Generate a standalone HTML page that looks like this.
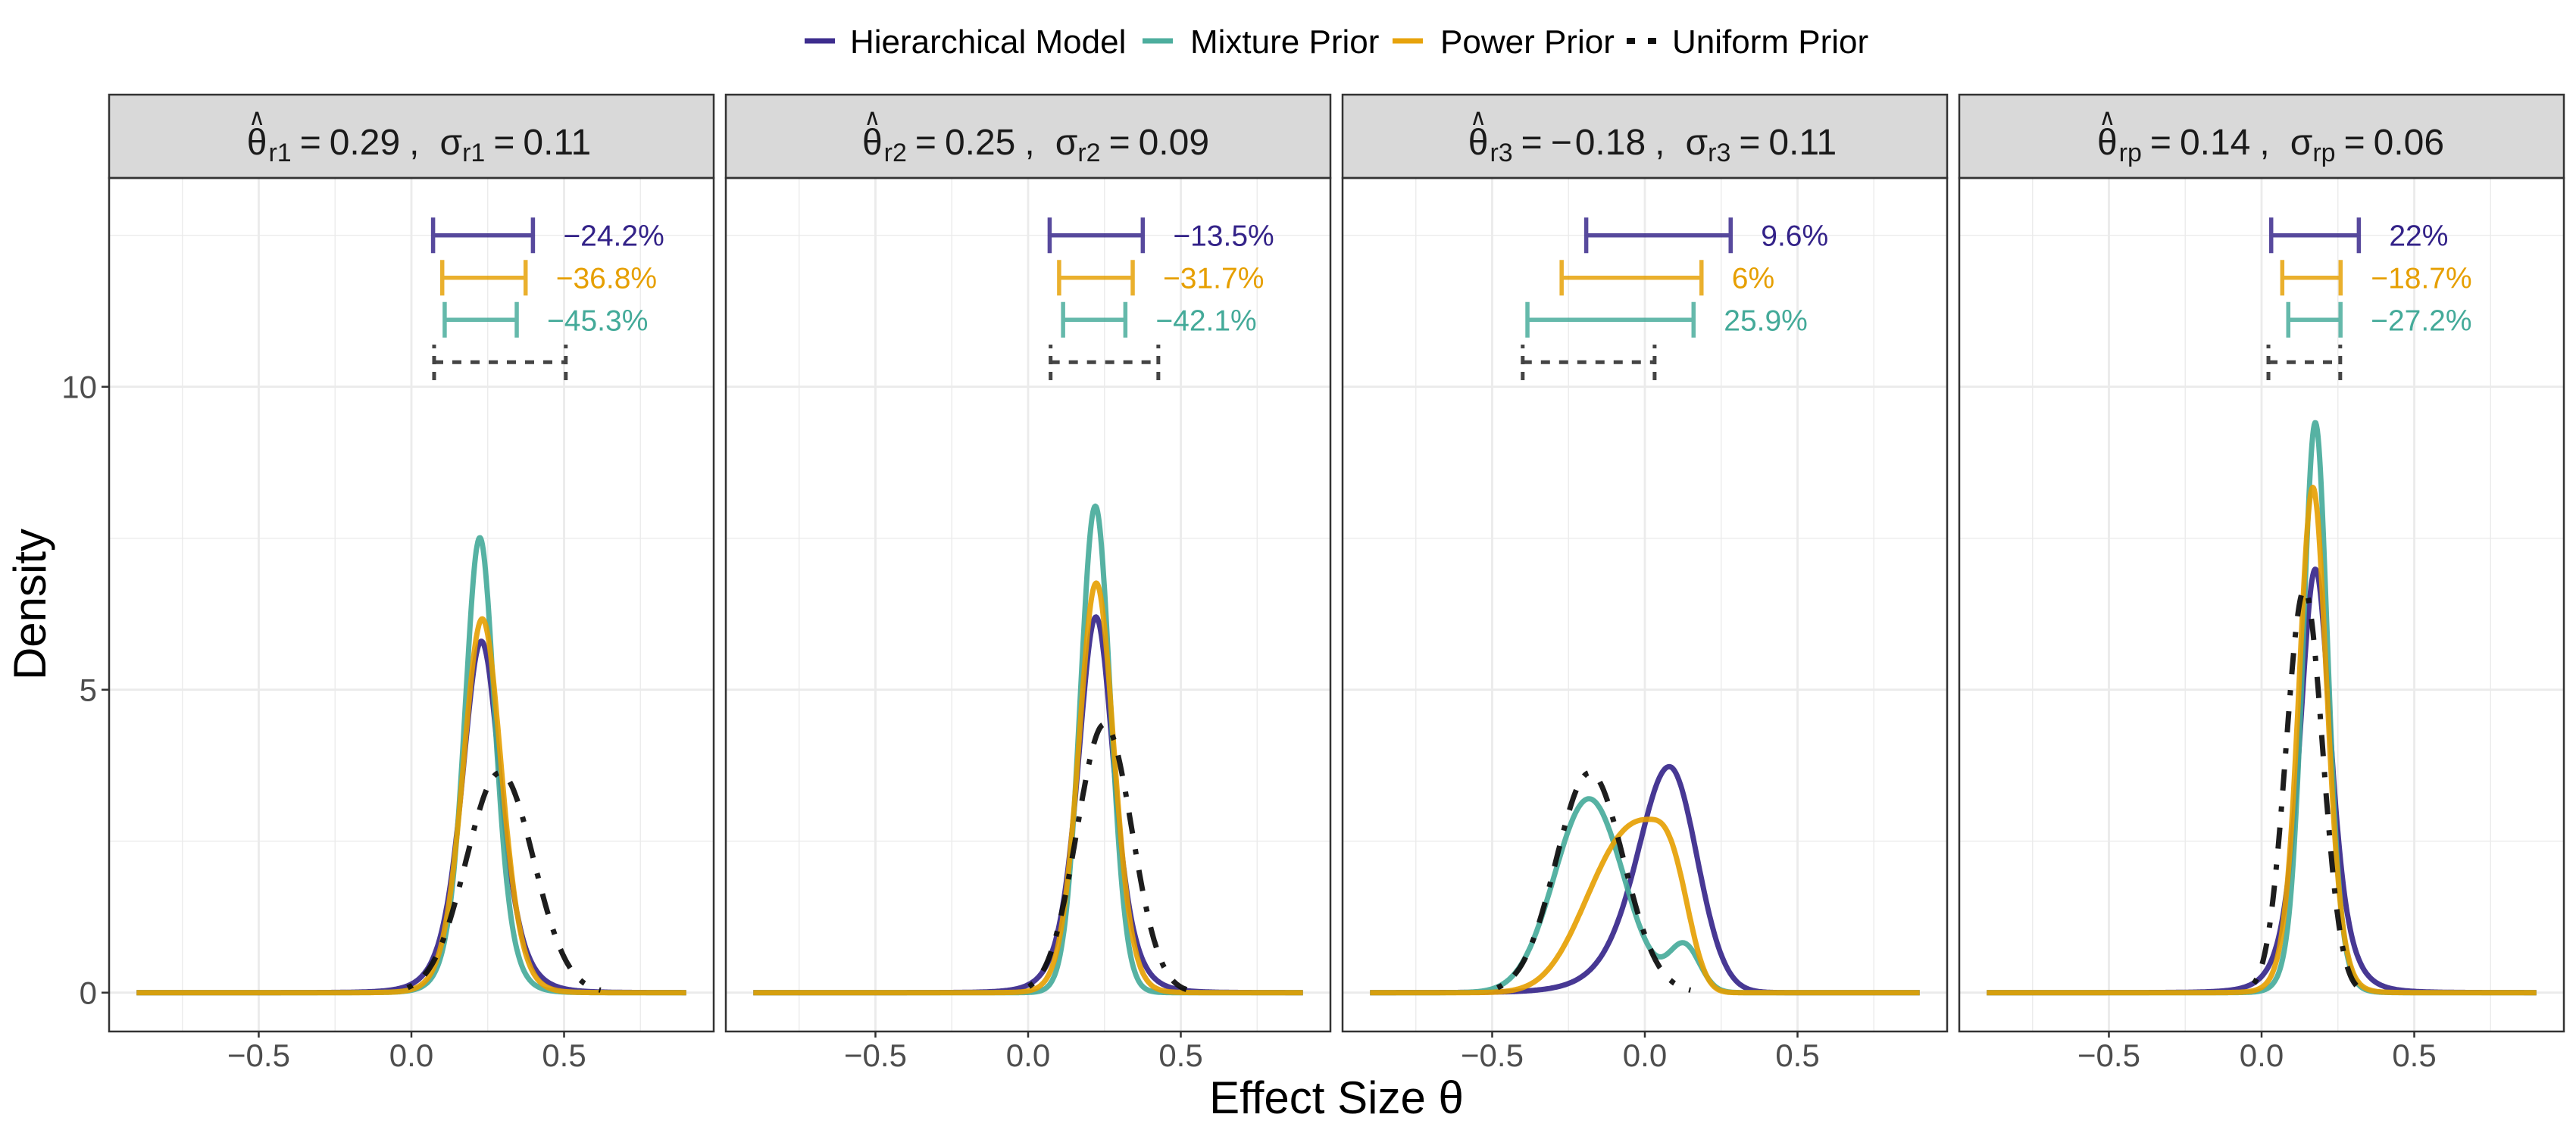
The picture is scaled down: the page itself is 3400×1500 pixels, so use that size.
<!DOCTYPE html>
<html>
<head>
<meta charset="utf-8">
<style>
  html, body { margin: 0; padding: 0; background: #ffffff; }
  svg { display: block; }
  text { font-family: "Liberation Sans", Arial, sans-serif; }
</style>
</head>
<body>
<svg id="chart" xmlns="http://www.w3.org/2000/svg" width="3400" height="1500" viewBox="0 0 3400 1500">
  <rect x="0" y="0" width="3400" height="1500" fill="#ffffff"/>

  <!-- Legend -->
  <g>
    <line x1="1062" y1="54" x2="1102" y2="54" stroke="#332288" stroke-width="7" opacity="0.95"/>
    <text x="1122" y="70" font-size="44" fill="#000">Hierarchical Model</text>
    <line x1="1508" y1="54" x2="1548" y2="54" stroke="#44AA99" stroke-width="7" opacity="0.95"/>
    <text x="1571" y="70" font-size="44" fill="#000">Mixture Prior</text>
    <line x1="1838" y1="54" x2="1878" y2="54" stroke="#E69F00" stroke-width="7" opacity="0.95"/>
    <text x="1901" y="70" font-size="44" fill="#000">Power Prior</text>
    <rect x="2147" y="50" width="11" height="8" fill="#111"/>
    <rect x="2175" y="50" width="11" height="8" fill="#111"/>
    <text x="2207" y="70" font-size="44" fill="#000">Uniform Prior</text>
  </g>

  <g id="grids"></g>
  <g id="curves"></g>
  <g id="bars"></g>
  <g id="frames"></g>

  <!-- Strip texts -->
  <g fill="#1a1a1a">
    <text id="s0" x="553" y="204" text-anchor="middle" font-size="48">θ<tspan font-size="34" dx="2" dy="9">r1</tspan><tspan dx="11" dy="-9">=</tspan><tspan dx="11">0.29</tspan><tspan dx="12">,</tspan><tspan dx="27">σ</tspan><tspan font-size="34" dy="9">r1</tspan><tspan dx="11" dy="-9">=</tspan><tspan dx="11">0.11</tspan></text>
    <text id="s1" x="1367" y="204" text-anchor="middle" font-size="48">θ<tspan font-size="34" dx="2" dy="9">r2</tspan><tspan dx="11" dy="-9">=</tspan><tspan dx="11">0.25</tspan><tspan dx="12">,</tspan><tspan dx="27">σ</tspan><tspan font-size="34" dy="9">r2</tspan><tspan dx="11" dy="-9">=</tspan><tspan dx="11">0.09</tspan></text>
    <text id="s2" x="2181" y="204" text-anchor="middle" font-size="48">θ<tspan font-size="34" dx="2" dy="9">r3</tspan><tspan dx="11" dy="-9">=</tspan><tspan dx="11">−</tspan><tspan dx="4">0.18</tspan><tspan dx="12">,</tspan><tspan dx="27">σ</tspan><tspan font-size="34" dy="9">r3</tspan><tspan dx="11" dy="-9">=</tspan><tspan dx="11">0.11</tspan></text>
    <text id="s3" x="2997" y="204" text-anchor="middle" font-size="48">θ<tspan font-size="34" dx="2" dy="9">rp</tspan><tspan dx="11" dy="-9">=</tspan><tspan dx="11">0.14</tspan><tspan dx="12">,</tspan><tspan dx="27">σ</tspan><tspan font-size="34" dy="9">rp</tspan><tspan dx="11" dy="-9">=</tspan><tspan dx="11">0.06</tspan></text>
    <text id="h0" x="334" y="165" text-anchor="middle" font-size="30" style="font-family:'DejaVu Sans',sans-serif">∧</text>
    <text id="h1" x="1148" y="165" text-anchor="middle" font-size="30" style="font-family:'DejaVu Sans',sans-serif">∧</text>
    <text id="h2" x="1946" y="165" text-anchor="middle" font-size="30" style="font-family:'DejaVu Sans',sans-serif">∧</text>
    <text id="h3" x="2777" y="165" text-anchor="middle" font-size="30" style="font-family:'DejaVu Sans',sans-serif">∧</text>
  </g>

  <!-- Y axis -->
  <g fill="#4D4D4D" font-size="42" text-anchor="end">
    <text x="128" y="1325.7">0</text>
    <text x="128" y="925.7">5</text>
    <text x="128" y="525.7">10</text>
  </g>
  <g stroke="#333333" stroke-width="2.5">
    <line x1="134" y1="1310.7" x2="144" y2="1310.7"/>
    <line x1="134" y1="910.7" x2="144" y2="910.7"/>
    <line x1="134" y1="510.7" x2="144" y2="510.7"/>
  </g>
  <text transform="translate(60,798) rotate(-90)" text-anchor="middle" font-size="60" fill="#000">Density</text>

  <g id="xticks"></g>
  <text x="1764" y="1470" text-anchor="middle" font-size="60" fill="#000">Effect Size θ</text>
</svg>

<script>
(function(){
  var NS = 'http://www.w3.org/2000/svg';
  var L = [144, 958, 1772, 2586], W = 798;
  var PX = 403.03;
  function X(i, v){ return L[i] + 399 + v * PX; }
  function Y(d){ return 1310.7 - d * 80; }
  function el(tag, attrs, parent, txt){
    var e = document.createElementNS(NS, tag);
    for (var k in attrs) e.setAttribute(k, attrs[k]);
    if (txt !== undefined) e.textContent = txt;
    parent.appendChild(e);
    return e;
  }
  var grids = document.getElementById('grids');
  var curves = document.getElementById('curves');
  var bars = document.getElementById('bars');
  var frames = document.getElementById('frames');
  var xticks = document.getElementById('xticks');

  function side(z, c){
    var u = z / c.s;
    if (c.t === 'g') return Math.exp(-0.5 * u * u);
    if (c.t === 't') return Math.pow(1 + u * u / c.n, -(c.n + 1) / 2);
    return Math.exp(-Math.pow(Math.abs(u), c.n));
  }
  function comp(x, k){ var z = x - k.m; return k.A * side(z, z < 0 ? k.L : k.R); }
  function dens(x, cs){ var s = 0; for (var j = 0; j < cs.length; j++) s += comp(x, cs[j]); return s; }
  function g(A, m, s){ return {A:A, m:m, L:{t:'g', s:s}, R:{t:'g', s:s}}; }
  function t(A, m, s, n){ return {A:A, m:m, L:{t:'t', s:s, n:n}, R:{t:'t', s:s, n:n}}; }

  var P = [
    { th:0.29, sg:0.11,
      H:[t(5.80,0.229,0.0654,5)], M:[t(7.51,0.224,0.0513,7)], W:[t(6.17,0.232,0.0634,11)], U:[g(3.63,0.29,0.11)],
      bH:[0.071,0.398], bW:[0.101,0.374], bM:[0.109,0.345], bU:[0.0744,0.5056],
      lab:['−24.2%','−36.8%','−45.3%'] },
    { th:0.25, sg:0.09,
      H:[t(6.2,0.222,0.0612,5)], M:[t(8.03,0.22,0.0497,30)], W:[t(6.76,0.223,0.058,15)], U:[g(4.43,0.25,0.09)],
      bH:[0.0705,0.3755], bW:[0.1015,0.3425], bM:[0.1145,0.3185], bU:[0.0736,0.4264],
      lab:['−13.5%','−31.7%','−42.1%'] },
    { th:-0.18, sg:0.11,
      H:[{A:3.73, m:0.08, L:{t:'t', s:0.11, n:6}, R:{t:'g', s:0.09}}],
      M:[g(3.2,-0.183,0.113), g(0.75,0.13,0.05)],
      W:[{A:2.86, m:0.014, L:{t:'p', s:0.25, n:2.5}, R:{t:'p', s:0.142, n:3}}],
      U:[g(3.63,-0.18,0.11)],
      bH:[-0.192,0.281], bW:[-0.2725,0.1855], bM:[-0.3845,0.1595], bU:[-0.40,0.032],
      lab:['9.6%','6%','25.9%'] },
    { th:0.14, sg:0.06,
      H:[t(6.99,0.176,0.0536,4)], M:[t(9.41,0.176,0.0413,10)], W:[t(8.34,0.168,0.0467,10)], U:[g(6.65,0.14,0.06)],
      bH:[0.0315,0.3185], bW:[0.0678,0.2588], bM:[0.0875,0.2585], bU:[0.0224,0.2576],
      lab:['22%','−18.7%','−27.2%'] }
  ];

  function pathFor(i, cs, a, b, step){
    var d = '';
    for (var x = a; x <= b + 1e-9; x += step){
      d += (d ? 'L' : 'M') + X(i, x).toFixed(1) + ' ' + Y(dens(x, cs)).toFixed(1);
    }
    return d;
  }

  for (var i = 0; i < 4; i++){
    var left = L[i], right = L[i] + W;
    [-0.75, -0.25, 0.25, 0.75].forEach(function(v){
      el('line', {x1:X(i,v), y1:235, x2:X(i,v), y2:1362, stroke:'#EBEBEB', 'stroke-width':1.4}, grids);
    });
    [2.5, 7.5, 12.5].forEach(function(v){
      el('line', {x1:left, y1:Y(v), x2:right, y2:Y(v), stroke:'#EBEBEB', 'stroke-width':1.4}, grids);
    });
    [-0.5, 0, 0.5].forEach(function(v){
      el('line', {x1:X(i,v), y1:235, x2:X(i,v), y2:1362, stroke:'#EBEBEB', 'stroke-width':2.8}, grids);
    });
    [0, 5, 10].forEach(function(v){
      el('line', {x1:left, y1:Y(v), x2:right, y2:Y(v), stroke:'#EBEBEB', 'stroke-width':2.8}, grids);
    });

    var p = P[i];
    var common = {fill:'none', 'stroke-width':7, 'stroke-linejoin':'round', opacity:0.9};
    function curve(cs, col){
      var a = {d:pathFor(i, cs, -0.9, 0.9, 0.0025), stroke:col};
      for (var k in common) a[k] = common[k];
      el('path', a, curves);
    }
    curve(p.H, '#332288');
    curve(p.M, '#44AA99');
    curve(p.W, '#E69F00');
    el('path', {d:pathFor(i, p.U, p.th - 2.75*p.sg, p.th + 3*p.sg, 0.002), fill:'none', stroke:'#111111',
      'stroke-width':7, 'stroke-dasharray':'7 21 28 21', 'stroke-linecap':'butt', opacity:0.95}, curves);

    function ebar(b, y, col, label){
      var x1 = X(i,b[0]), x2 = X(i,b[1]);
      var gg = el('g', {stroke:col, 'stroke-width':5.5, opacity:0.82}, bars);
      el('line', {x1:x1, y1:y, x2:x2, y2:y}, gg);
      el('line', {x1:x1, y1:y-23.5, x2:x1, y2:y+23.5}, gg);
      el('line', {x1:x2, y1:y-23.5, x2:x2, y2:y+23.5}, gg);
      el('text', {x:x2+40, y:y+14, 'font-size':39, fill:col}, bars, label);
    }
    ebar(p.bH, 310.7, '#332288', p.lab[0]);
    ebar(p.bW, 366.7, '#E69F00', p.lab[1]);
    ebar(p.bM, 422.3, '#44AA99', p.lab[2]);
    var u1 = X(i,p.bU[0]), u2 = X(i,p.bU[1]);
    var gd = el('g', {stroke:'#444444', 'stroke-width':5}, bars);
    el('line', {x1:u1, y1:478.3, x2:u2, y2:478.3, 'stroke-dasharray':'12 12'}, gd);
    el('line', {x1:u1, y1:502, x2:u1, y2:455, 'stroke-dasharray':'11 10'}, gd);
    el('line', {x1:u2, y1:502, x2:u2, y2:455, 'stroke-dasharray':'11 10'}, gd);

    el('rect', {x:left, y:125, width:W, height:110, fill:'#D9D9D9', stroke:'#333333', 'stroke-width':2.5}, frames);
    el('rect', {x:left, y:235, width:W, height:1127, fill:'none', stroke:'#333333', 'stroke-width':2.5}, frames);

    [[-0.5,'−0.5'],[0,'0.0'],[0.5,'0.5']].forEach(function(tk){
      var xx = X(i, tk[0]);
      el('line', {x1:xx, y1:1362, x2:xx, y2:1370, stroke:'#333333', 'stroke-width':2.5}, xticks);
      el('text', {x:xx, y:1408, 'text-anchor':'middle', 'font-size':42, fill:'#4D4D4D'}, xticks, tk[1]);
    });
  }

  for (var j = 0; j < 4; j++){
    try {
      var s = document.getElementById('s' + j);
      var e = s.getExtentOfChar(0);
      var h = document.getElementById('h' + j);
      h.setAttribute('x', (e.x + e.width / 2).toFixed(1));
    } catch(err) {}
  }
})();
</script>
</body>
</html>
